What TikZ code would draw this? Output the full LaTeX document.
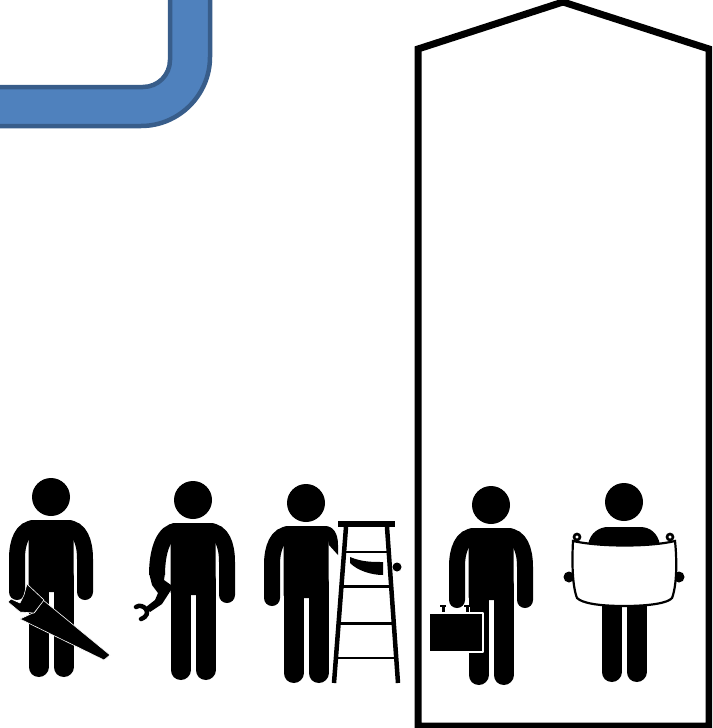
\documentclass[tikz,border=0pt]{standalone}
\usepackage{xcolor}
\usepackage{tikz}
\usetikzlibrary{calc}
\definecolor{pipefill}{HTML}{4F81BD}
\definecolor{pipeline}{HTML}{385D8A}

\begin{document}
\begin{tikzpicture}[
  x=1pt, y=-1pt,
  head/.style={circle, fill=black, inner sep=0pt, minimum size=38pt},
  leg/.style={line width=20pt, line cap=round, black},
  limb/.style={line width=16pt, line cap=round, black},
  tool/.style={fill=black, draw=white, line width=0.6pt, line join=round},
  rail/.style={line width=2.6pt, black},
  pipe/.style={fill=pipefill, draw=pipeline, line width=4.5pt},
  silo/.style={draw=black, line width=7pt, line join=miter},
]
\useasboundingbox (0,0) rectangle (712,728);
\clip (0,0) rectangle (712,728);

% Top left: blue pipe running off the edge
\draw[pipe] (-5,87) -- (143,87) .. controls (158,87) and (170,75) .. (170,60) -- (170,-5)
  -- (210,-5) -- (210,57) .. controls (210,95) and (179,126) .. (141,126) -- (-5,126) -- cycle;

% Right: house outline round the last two people
\draw[silo] (418,726) -- (418,49) -- (563,2) -- (709,49) -- (709,726) -- cycle;

% heads and legs of all five people
\foreach \who/\hx/\hy in {saw/51/497, wrench/193/500, ladder/306/503, case/491/505, map/624/502}{
  \begin{scope}[shift={(\hx,\hy)}]
    \node[head] (\who) at (0,0) {};
    \draw[leg] (-12.5,80) -- (-12.5,170);
    \draw[leg] (12.5,80) -- (12.5,170);
  \end{scope}
}

% torso of the first four
\foreach \hx/\hy in {51/497, 193/500, 306/503, 491/505}{
  \begin{scope}[shift={(\hx,\hy)}]
    \fill[rounded corners=3pt] (-22.5,23) -- (22.5,23) -- (22.5,95) -- (-22.5,95) -- cycle;
  \end{scope}
}

% the arm on the right
\foreach \hx/\hy in {51/497, 193/500, 491/505}{
  \begin{scope}[shift={(\hx,\hy)}]
    \draw[limb] (16,31) .. controls (29,31) and (34,45) .. (34,62) -- (34,95);
  \end{scope}
}

% the arm on the left, except for the wrench one
\foreach \hx/\hy in {51/497, 306/503, 491/505}{
  \begin{scope}[shift={(\hx,\hy)}]
    \draw[limb] (-16,31) .. controls (-29,31) and (-34,45) .. (-34,62) -- (-34,95);
  \end{scope}
}

% saw
\filldraw[tool] (43,600) -- (110,655) -- (104,660) -- (20,619) -- (35,612) -- cycle;
\filldraw[tool] (27,584) -- (44,600) -- (34,613) -- (20,612) -- (8,602) -- (11,599) -- (20,603) -- (24,595) -- cycle;

% wrench
\draw[limb, line cap=butt] (177,531) .. controls (164,531) and (157,550) .. (157,575);
\fill (149,573) -- (152,585) -- (158,593) -- (155,600) -- (146,607) -- (150,612) -- (162,604) -- (171,590) -- (171,585) -- (164,580) -- (165,573) -- cycle;
\draw[line width=4.5pt, line cap=round] (136,607) .. controls (143,602) and (154,614) .. (141,619);

% ladder, arm goes behind it
\coordinate (topleft) at (346,527);
\coordinate (botleft) at (334,683);
\coordinate (topright) at (387,527);
\coordinate (botright) at (398,683);
\fill (325,526) .. controls (333,526) and (338,533) .. (338,545) -- (338,555) -- (329,545) -- cycle;
\fill (350,557) .. controls (362,562) and (372,562) .. (383,562) -- (383,575)
  .. controls (372,575) and (358,571) .. (350,563) -- cycle;
\fill (397,567) circle[radius=4.5pt];
\fill (338,521) rectangle (395,527);
\draw[rail, line width=4.5pt] (topleft) -- (botleft);
\draw[rail, line width=4.5pt] (topright) -- (botright);
\foreach \t in {.16,.38,.62,.84}{
  \draw[rail] ($(topleft)!\t!(botleft)$) -- ($(topright)!\t!(botright)$);
}

% briefcase
\foreach \cx in {443,467}{
  \draw[white, line width=5pt] (\cx,605) -- (\cx,613);
  \draw[line width=3pt] (\cx,606) -- (\cx,614);
  \draw[line width=2.5pt] (\cx-3,606) -- (\cx+3,606);
}
\filldraw[tool, line width=1.2pt] (429,613) rectangle (483,652);

% plan held open
\fill (588,545) .. controls (590,532) and (600,527) .. (608,527) -- (640,527)
  .. controls (650,527) and (658,533) .. (660,545) -- cycle;
\fill (569,577) circle[radius=5.5pt];
\fill (679,577) circle[radius=5.5pt];
\draw[line width=2.6pt, fill=white] (577,537) circle[radius=3pt];
\draw[line width=2.6pt, fill=white] (670,537) circle[radius=3pt];
\draw[line width=2.2pt, fill=white] (573,541) .. controls (600,547) and (650,547) .. (675,541)
  .. controls (677,560) and (677,585) .. (672,598) .. controls (668,603) and (650,606) .. (624,606)
  .. controls (598,606) and (582,603) .. (577,598) .. controls (572,585) and (572,560) .. (573,541) -- cycle;
\end{tikzpicture}
\end{document}
